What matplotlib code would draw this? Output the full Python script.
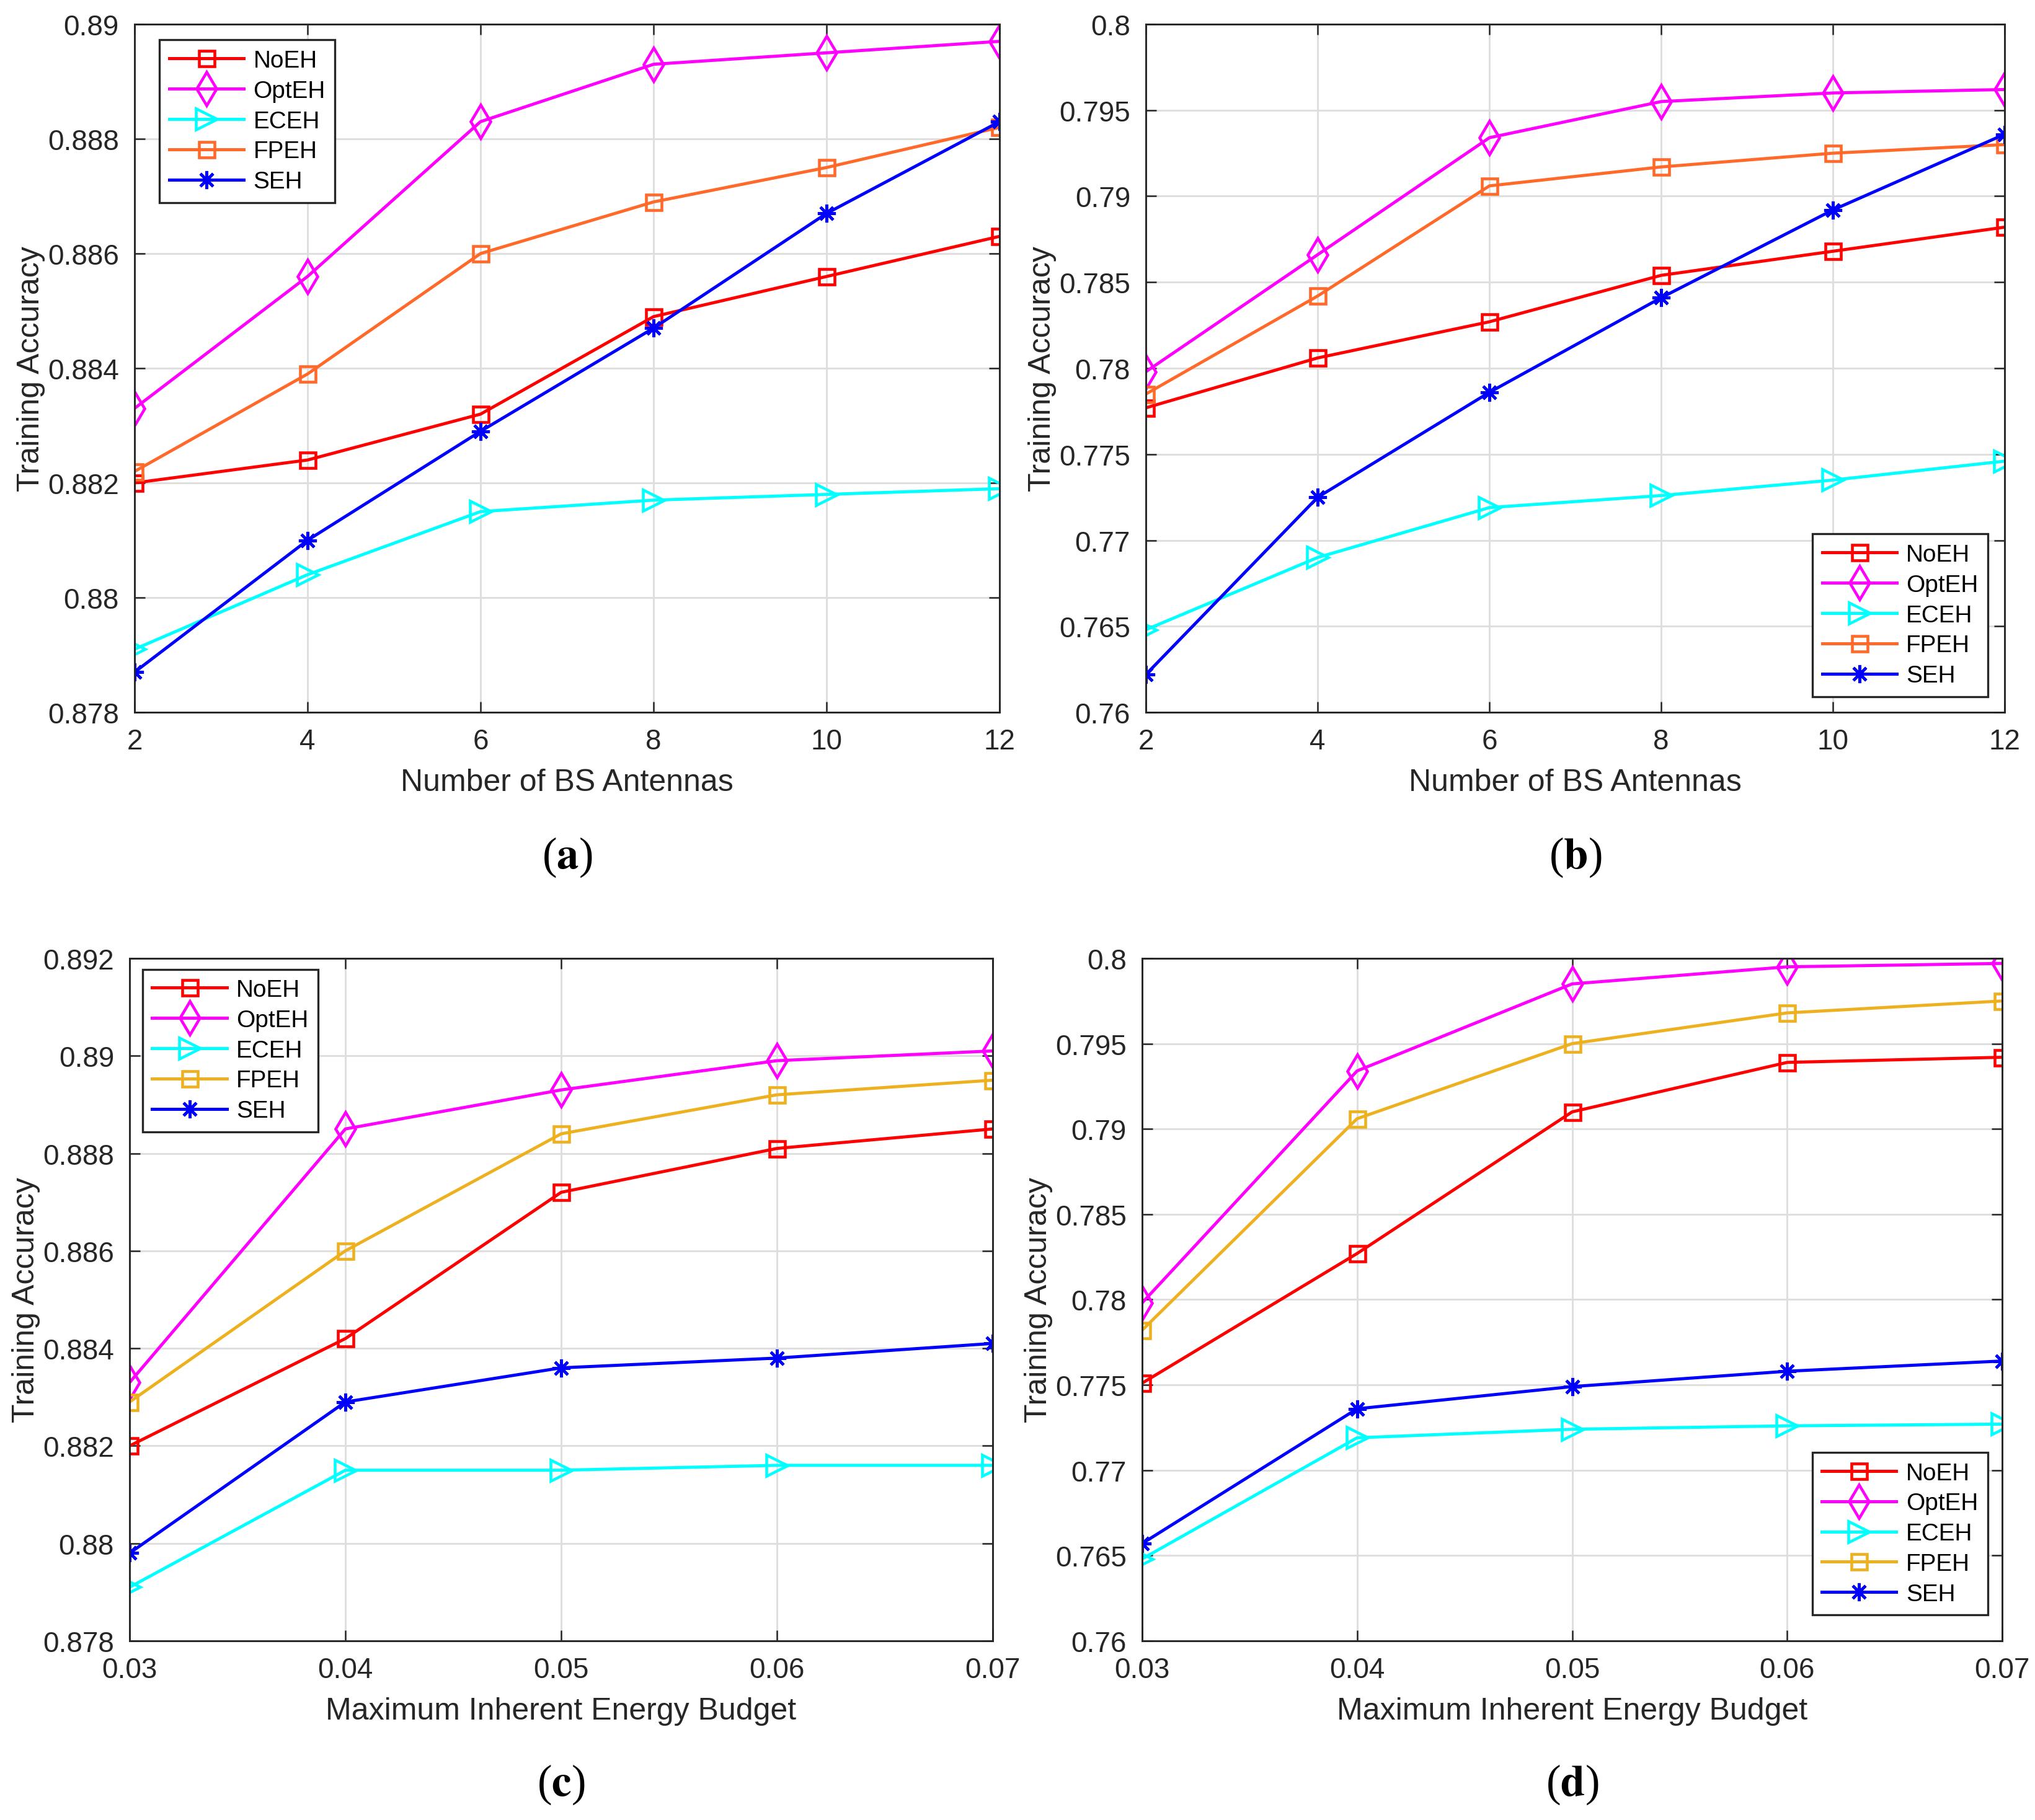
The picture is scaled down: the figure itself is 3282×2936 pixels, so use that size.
import matplotlib
matplotlib.use("Agg")
import matplotlib.pyplot as plt
from matplotlib.ticker import FuncFormatter, MultipleLocator

plt.rcParams['font.family'] = ['Liberation Sans', 'DejaVu Sans']

# x values
antennas = [2, 4, 6, 8, 10, 12]
budgets = [0.03, 0.04, 0.05, 0.06, 0.07]

names = ["NoEH", "OptEH", "ECEH", "FPEH", "SEH"]

# (a) training accuracy vs antennas
a_noeh = [0.8820, 0.8824, 0.8832, 0.8849, 0.8856, 0.8863]
a_opteh = [0.8833, 0.8856, 0.8883, 0.8893, 0.8895, 0.8897]
a_eceh = [0.8791, 0.8804, 0.8815, 0.8817, 0.8818, 0.8819]
a_fpeh = [0.8822, 0.8839, 0.8860, 0.8869, 0.8875, 0.8882]
a_seh = [0.8787, 0.8810, 0.8829, 0.8847, 0.8867, 0.8883]

# (b)
b_noeh = [0.7777, 0.7806, 0.7827, 0.7854, 0.7868, 0.7882]
b_opteh = [0.7798, 0.7866, 0.7934, 0.7955, 0.7960, 0.7962]
b_eceh = [0.7648, 0.7690, 0.7719, 0.7726, 0.7735, 0.7746]
b_fpeh = [0.7785, 0.7842, 0.7906, 0.7917, 0.7925, 0.7930]
b_seh = [0.7622, 0.7725, 0.7786, 0.7841, 0.7892, 0.7936]

# (c) training accuracy vs energy budget
c_noeh = [0.8820, 0.8842, 0.8872, 0.8881, 0.8885]
c_opteh = [0.8833, 0.8885, 0.8893, 0.8899, 0.8901]
c_eceh = [0.8791, 0.8815, 0.8815, 0.8816, 0.8816]
c_fpeh = [0.8829, 0.8860, 0.8884, 0.8892, 0.8895]
c_seh = [0.8798, 0.8829, 0.8836, 0.8838, 0.8841]

# (d)
d_noeh = [0.7751, 0.7827, 0.7910, 0.7939, 0.7942]
d_opteh = [0.7798, 0.7934, 0.7985, 0.7995, 0.7997]
d_eceh = [0.7648, 0.7719, 0.7724, 0.7726, 0.7727]
d_fpeh = [0.7782, 0.7906, 0.7950, 0.7968, 0.7975]
d_seh = [0.7657, 0.7736, 0.7749, 0.7758, 0.7764]

axcol = '#262626'
markers = ['s', 'd', '>', 's', (8, 2, 0)]
msizes = [6, 9, 8, 6, 7]


def fmt(v, pos):
    return '%g' % round(v, 6)


def panel(ax, x, series, colors, xlabel, ylim, ystep, legloc, anchor, tag):
    for ys, name, mk, ms, c in zip(series, names, markers, msizes, colors):
        ax.plot(x, ys, color=c, lw=1.2, marker=mk, ms=ms, mfc='none',
                mec=c, mew=1.1, label=name)
    ax.set_xlim(x[0], x[-1])
    ax.set_ylim(*ylim)
    ax.set_xticks(x)
    ax.yaxis.set_major_locator(MultipleLocator(ystep))
    ax.xaxis.set_major_formatter(FuncFormatter(fmt))
    ax.yaxis.set_major_formatter(FuncFormatter(fmt))
    ax.grid(True, color='#dedede', lw=0.7)
    ax.set_axisbelow(True)
    ax.tick_params(direction='in', length=4, width=0.6, colors=axcol,
                   labelsize=11, top=True, right=True, pad=6)
    for s in ax.spines.values():
        s.set_color(axcol)
        s.set_linewidth(0.7)
    ax.set_xlabel(xlabel, fontsize=12, color=axcol, labelpad=5)
    ax.set_ylabel("Training Accuracy", fontsize=12, color=axcol, labelpad=1)
    leg = ax.legend(loc=legloc, bbox_to_anchor=anchor, borderaxespad=0,
                    fontsize=9.3, fancybox=False, framealpha=1,
                    edgecolor=axcol, handlelength=3.1, labelspacing=0.33,
                    borderpad=0.4, handletextpad=0.4)
    leg.get_frame().set_linewidth(0.8)
    ax.text(0.5, -0.21, r'($\mathbf{%s}$)' % tag, transform=ax.transAxes,
            ha='center', va='center', fontsize=17, family='Liberation Serif',
            math_fontfamily='stix')


fig = plt.figure(figsize=(10.94, 9.79), dpi=300)

col1 = ['#ff0000', '#ff00ff', '#00ffff', '#ff6929', '#0000ff']
col2 = ['#ff0000', '#ff00ff', '#00ffff', '#edb120', '#0000ff']

ax1 = fig.add_axes([0.0661, 0.6084, 0.4251, 0.3780])
panel(ax1, antennas, [a_noeh, a_opteh, a_eceh, a_fpeh, a_seh], col1,
      "Number of BS Antennas", (0.878, 0.89), 0.002, 'upper left', (0.029, 0.977), 'a')

ax2 = fig.add_axes([0.5631, 0.6084, 0.4220, 0.3780])
panel(ax2, antennas, [b_noeh, b_opteh, b_eceh, b_fpeh, b_seh], col1,
      "Number of BS Antennas", (0.76, 0.80), 0.005, 'lower right', (0.9805, 0.023), 'b')

ax3 = fig.add_axes([0.0637, 0.0984, 0.4241, 0.3749])
panel(ax3, budgets, [c_noeh, c_opteh, c_eceh, c_fpeh, c_seh], col2,
      "Maximum Inherent Energy Budget", (0.878, 0.892), 0.002, 'upper left', (0.015, 0.984), 'c')

ax4 = fig.add_axes([0.5612, 0.0984, 0.4227, 0.3749])
panel(ax4, budgets, [d_noeh, d_opteh, d_eceh, d_fpeh, d_seh], col2,
      "Maximum Inherent Energy Budget", (0.76, 0.80), 0.005, 'lower right', (0.983, 0.038), 'd')

fig.savefig("out.png", dpi=300, facecolor='white')
